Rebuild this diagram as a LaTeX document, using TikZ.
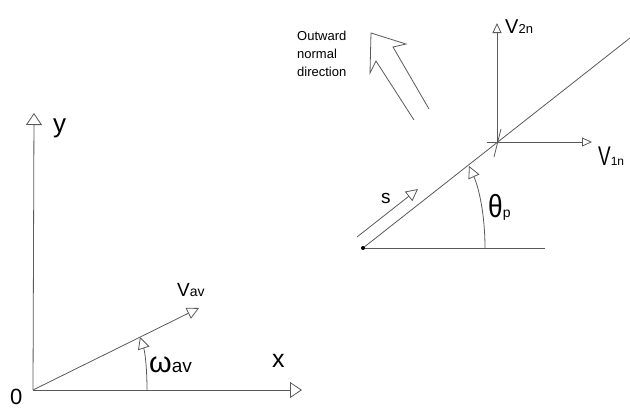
\documentclass[tikz,border=0pt]{standalone}
\usepackage{fontspec}
\setmainfont{Liberation Sans}
\usetikzlibrary{arrows.meta}
\newcommand\myfs[1]{\fontsize{#1}{#1}\selectfont}
\begin{document}
\begin{tikzpicture}[x=1pt,y=-1pt,
  ln/.style={draw=black!65, line width=0.8pt},
  bigtip/.style={-{Triangle[open,length=12pt,width=16pt]}},
  medtip/.style={-{Triangle[open,length=12pt,width=12pt]}},
  smalltip/.style={-{Triangle[open,length=10pt,width=9pt]}},
  lbl/.style={inner sep=0pt, anchor=base west, text=black}]
\useasboundingbox (0,0) rectangle (630,408);
% left coordinate frame
\coordinate (O) at (33,390);
\coordinate (Yt) at (34,113);
\coordinate (Xt) at (302,390);
\coordinate (Vt) at (199,308);
\coordinate (Wa) at (147,390);
\coordinate (Wb) at (140,337);
\draw[ln,bigtip] (O) -- (Yt);
\draw[ln,bigtip] (O) -- (Xt);
\draw[ln,medtip] (O) -- (Vt);
\draw[ln,medtip] (Wa) .. controls (147,368) and (145,352) .. (Wb);
\node[lbl] (ylab) at (53,132) {\myfs{26}y};
\node[lbl] (xlab) at (272,367) {\myfs{25}x};
\node[lbl] (olab) at (10,404) {\myfs{22}0};
\node[lbl] (vav) at (177,296) {\myfs{19}V\myfs{14}av};
\node[lbl] (wav) at (149,372) {\myfs{29}ω\myfs{19}av};
% right part
\coordinate (P) at (363,248);
\coordinate (H) at (545,248);
\coordinate (L) at (630,38);
\coordinate (C) at (497,143);
\coordinate (V2) at (497,23);
\coordinate (Ce) at (487,142);
\coordinate (V1) at (592,142);
\coordinate (Ka) at (501,129);
\coordinate (Kb) at (494,157);
\coordinate (Ta) at (485,248);
\coordinate (Tb) at (469,166);
\coordinate (S1) at (357,237);
\coordinate (S2) at (418,189);
\draw[ln] (P) -- (H);
\draw[ln] (P) -- (L);
\draw[ln,smalltip] (C) -- (V2);
\draw[ln,smalltip] (Ce) -- (V1);
\draw[ln] (Ka) -- (Kb);
\draw[ln,medtip] (Ta) .. controls (485,215) and (479,188) .. (Tb);
\draw[ln,medtip] (S1) -- (S2);
\fill[black] (P) circle (2pt);
% outward normal arrow
\coordinate (N1) at (414,120);
\coordinate (N2) at (376,61);
\coordinate (N3) at (370,73);
\coordinate (N4) at (371,33);
\coordinate (N5) at (406,44);
\coordinate (N6) at (393,47);
\coordinate (N7) at (429,109);
\draw[ln, line join=miter] (N1) -- (N2) -- (N3) -- (N4) -- (N5) -- (N6) -- (N7);
\node[inner sep=0pt, anchor=north west, align=left, text=black,
  font={\fontsize{13}{18}\selectfont}] (ond) at (297,31)
  {Outward\\normal\\direction};
\node[lbl] (v2n) at (505,33) {\myfs{20}V\myfs{13}2n};
\node[lbl] (v1n) at (598,165) {\scalebox{0.7}[1]{\myfs{27}V}\myfs{12}1n};
\node[lbl] (thp) at (488,217) {\scalebox{0.82}[1]{\myfs{32}θ}\myfs{14}p};
\node[lbl] (slab) at (381,203) {\myfs{19}s};
\end{tikzpicture}
\end{document}
